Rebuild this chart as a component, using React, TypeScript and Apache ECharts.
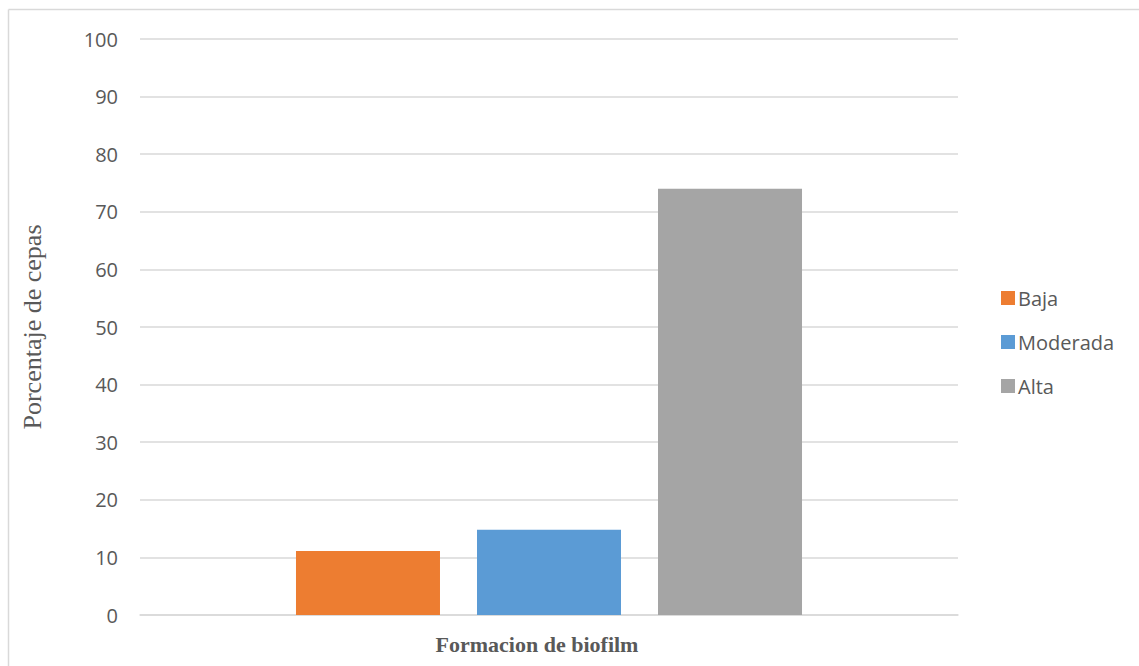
import React, { useEffect, useRef } from "react";
import * as echarts from "echarts";

const categories = [""];
const seriesNames = ["Baja", "Moderada", "Alta"];
const bajaValues = [11.1];
const moderadaValues = [14.8];
const altaValues = [74.0];
const colors = ["#ED7D31", "#5B9BD5", "#A5A5A5"];

export default function App() {
  const ref = useRef<HTMLDivElement>(null);
  useEffect(() => {
    if (!ref.current) return;
    const chart = echarts.init(ref.current, undefined, { renderer: "svg" });
    const values = [bajaValues, moderadaValues, altaValues];
    chart.setOption({
      animation: false,
      backgroundColor: "#ffffff",
      grid: { left: 140, right: 181, top: 39, bottom: 51, containLabel: false },
      legend: {
        orient: "vertical",
        left: 996,
        top: 283,
        itemWidth: 14,
        itemHeight: 14,
        itemGap: 24,
        icon: "rect",
        data: seriesNames,
        textStyle: { fontFamily: "Open Sans", fontSize: 20, color: "#595959", lineHeight: 20, padding: [0, 0, 0, -2] },
      },
      xAxis: {
        type: "category",
        data: categories,
        name: "Formacion de biofilm",
        nameLocation: "middle",
        nameGap: 18,
        nameTextStyle: { fontFamily: "Liberation Serif", fontWeight: "bold", fontSize: 22, color: "#595959", padding: [0, 24, 0, 0] },
        axisLine: { show: true, lineStyle: { color: "#d9d9d9", width: 1.5 } },
        axisTick: { show: false },
        axisLabel: { show: false },
      },
      yAxis: {
        type: "value",
        min: 0,
        max: 100,
        interval: 10,
        name: "Porcentaje de cepas",
        nameLocation: "middle",
        nameGap: 95,
        nameTextStyle: { fontFamily: "Liberation Serif", fontSize: 26, color: "#595959" },
        axisLine: { show: false },
        axisTick: { show: false },
        axisLabel: { fontFamily: "Open Sans", fontSize: 20, color: "#595959", margin: 22 },
        splitLine: { lineStyle: { color: "#d9d9d9", width: 1.5 } },
      },
      series: seriesNames.map((name, i) => ({
        name,
        type: "bar",
        data: values[i],
        barWidth: 144,
        barGap: "25.7%",
        itemStyle: { color: colors[i] },
      })),
      graphic: [
        { type: "line", shape: { x1: 8.5, y1: 9.5, x2: 1139, y2: 9.5 }, style: { stroke: "#d9d9d9", lineWidth: 1.5 } },
        { type: "line", shape: { x1: 8.5, y1: 9.5, x2: 8.5, y2: 666 }, style: { stroke: "#d9d9d9", lineWidth: 1.5 } },
      ],
    });
    return () => chart.dispose();
  }, []);
  return <div ref={ref} style={{ width: 1139, height: 666, position: "absolute", left: 0, top: 0 }} />;
}
